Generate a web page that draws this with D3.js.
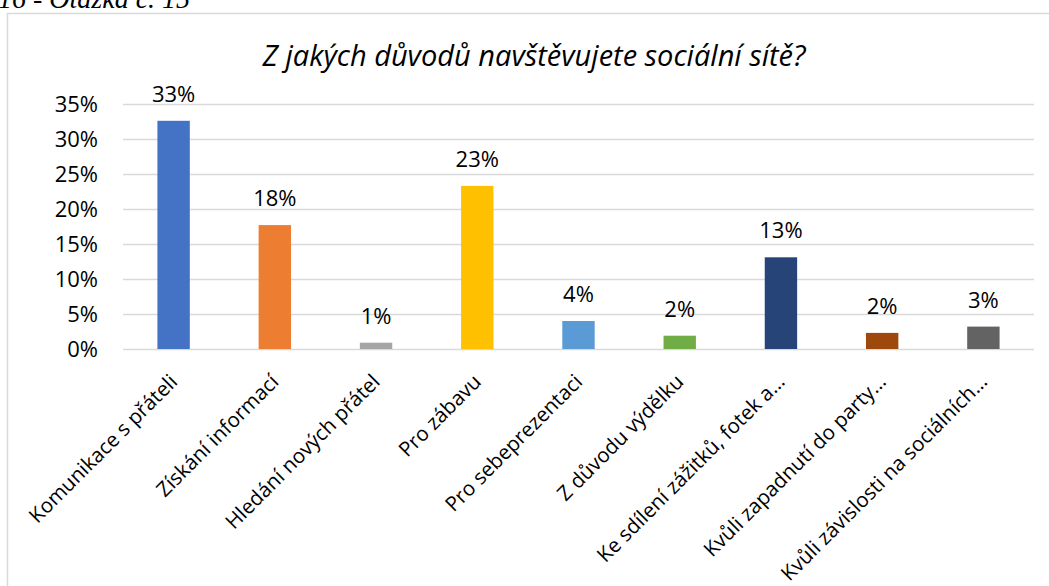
<!DOCTYPE html>
<html>
<head>
<meta charset="utf-8">
<script src="https://cdn.jsdelivr.net/npm/d3@7"></script>
<style>
  body { margin: 0; background: #fff; overflow: hidden; }
  svg text { font-family: "Open Sans", sans-serif; fill: #000; }
</style>
</head>
<body>
<div id="chart"></div>
<script>
// data
var categories = ["Komunikace s přáteli", "Získání informací", "Hledání nových přátel",
                  "Pro zábavu", "Pro sebeprezentaci", "Z důvodu výdělku",
                  "Ke sdílení zážitků, fotek a…", "Kvůli zapadnutí do party…",
                  "Kvůli závislosti na sociálních…"];
var values = [0.326, 0.177, 0.009, 0.233, 0.040, 0.019, 0.131, 0.023, 0.032];
var colors = ["#4472C4", "#ED7D31", "#A5A5A5", "#FFC000", "#5B9BD5",
              "#70AD47", "#264478", "#9E480E", "#636363"];
var yTicks = [0, 0.05, 0.10, 0.15, 0.20, 0.25, 0.30, 0.35];

var W = 1049, H = 586;
var m = {left: 123, right: 15, top: 104, bottom: 237};

var svg = d3.select("#chart").append("svg")
    .attr("width", W).attr("height", H);

// caption above the chart frame (cut off at the top, as in the source)
svg.append("text")
    .attr("x", -2).attr("y", 8)
    .style("font-family", "'Liberation Serif', serif")
    .style("font-style", "italic")
    .style("font-size", "28px")
    .text("16 - Otázka č. 15");

// chart frame
svg.append("path")
    .attr("d", "M7.5," + H + "V13.5H" + W)
    .attr("fill", "none")
    .attr("stroke", "#d9d9d9")
    .attr("stroke-width", 1.5);

svg.append("text")
    .attr("x", 534).attr("y", 66)
    .attr("text-anchor", "middle")
    .style("font-style", "italic")
    .style("font-size", "29px")
    .text("Z jakých důvodů navštěvujete sociální sítě?");

var x = d3.scaleBand()
    .domain(categories)
    .range([m.left, W - m.right])
    .paddingInner(0.68).paddingOuter(0.34);

var y = d3.scaleLinear()
    .domain([0, 0.35])
    .range([H - m.bottom, m.top]);

// gridlines
svg.append("g").selectAll("line")
    .data(yTicks).join("line")
    .attr("x1", m.left).attr("x2", W - m.right)
    .attr("y1", function(d) { return Math.round(y(d)) + 0.5; })
    .attr("y2", function(d) { return Math.round(y(d)) + 0.5; })
    .attr("stroke", "#d9d9d9")
    .attr("stroke-width", 1.5);

// y axis labels
var yAxis = d3.axisLeft(y).tickValues(yTicks)
    .tickFormat(d3.format(".0%")).tickSize(0).tickPadding(25);
var gy = svg.append("g")
    .attr("transform", "translate(" + m.left + ",0)")
    .call(yAxis);
gy.select(".domain").remove();
gy.selectAll("text")
    .style("font-family", "'Open Sans', sans-serif")
    .style("font-size", "22px")
    .attr("dy", "0.36em");

// bars
svg.append("g").selectAll("rect")
    .data(values).join("rect")
    .attr("x", function(d, i) { return x(categories[i]); })
    .attr("width", x.bandwidth())
    .attr("y", function(d) { return y(d); })
    .attr("height", function(d) { return y(0) - y(d); })
    .attr("fill", function(d, i) { return colors[i]; });

// value labels
svg.append("g").selectAll("text")
    .data(values).join("text")
    .attr("x", function(d, i) { return x(categories[i]) + x.bandwidth() / 2; })
    .attr("y", function(d) { return y(d) - 19; })
    .attr("text-anchor", "middle")
    .style("font-size", "22px")
    .text(d3.format(".0%"));

// x axis labels (rotated)
svg.append("g").selectAll("text")
    .data(categories).join("text")
    .attr("transform", function(d) {
        var cx = x(d) + x.bandwidth() / 2;
        return "translate(" + cx + "," + (y(0) + 29) + ") rotate(-45)";
    })
    .attr("text-anchor", "end")
    .attr("dy", "0.35em")
    .style("font-size", "20.5px")
    .text(function(d) { return d; });
</script>
</body>
</html>
